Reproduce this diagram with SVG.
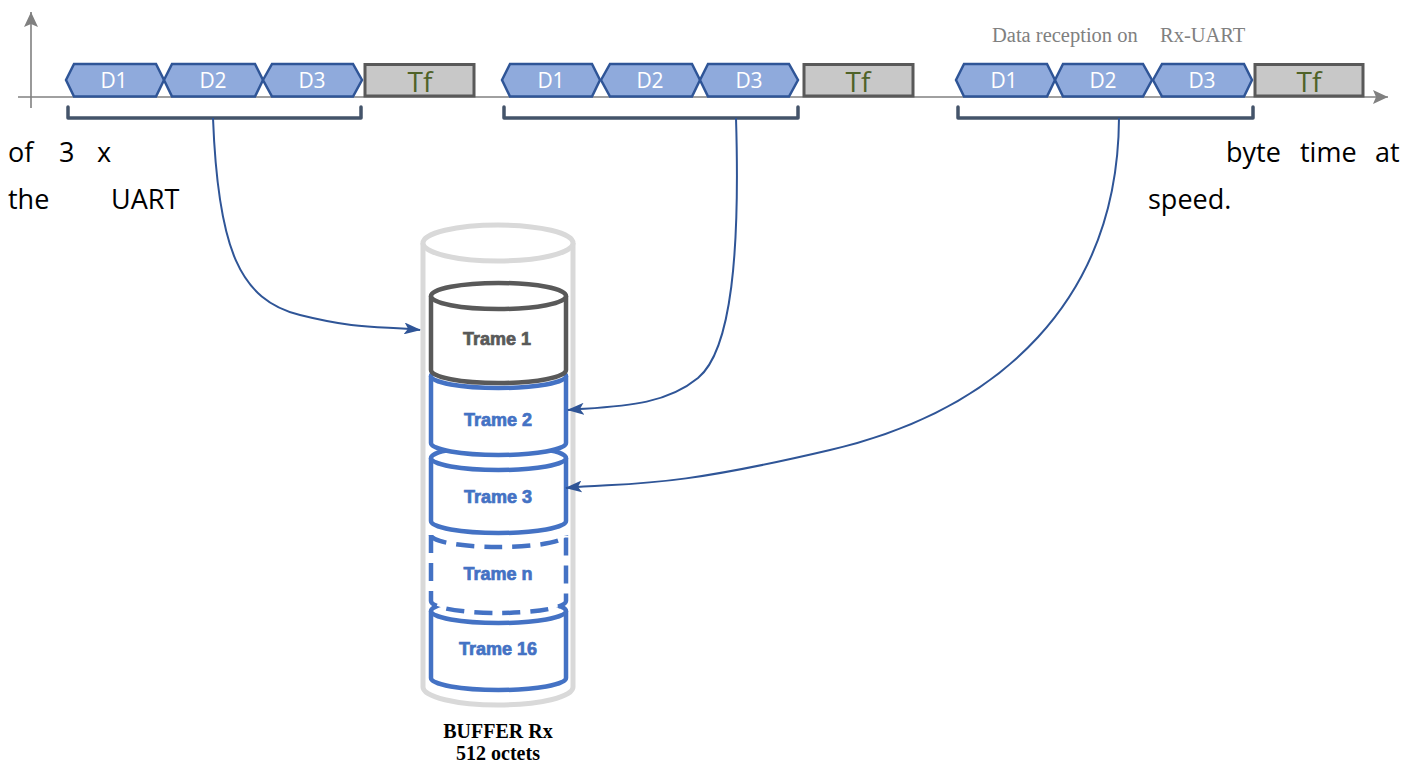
<svg xmlns="http://www.w3.org/2000/svg" width="1406" height="762" viewBox="0 0 1406 762">
<defs>
<style>
.hex{fill:#8FAADC;stroke:#2F5597;stroke-width:2.5;stroke-linejoin:miter}
.tf{fill:#C8C8C8;stroke:#595959;stroke-width:3}
.dl{font-family:"Open Sans","Liberation Sans",sans-serif;font-size:21px;fill:#FFFFFF;text-anchor:middle}
.tfl{font-family:"Open Sans","Liberation Sans",sans-serif;font-size:28px;fill:#4F6228;text-anchor:middle}
.br{fill:none;stroke:#44546A;stroke-width:3.5;stroke-linejoin:round;stroke-linecap:round}
.ax{stroke:#808080;stroke-width:1.6;fill:none}
.side{font-family:"Open Sans","Noto Sans",sans-serif;font-size:27px;fill:#000000}
.conn{fill:none;stroke:#2F5597;stroke-width:2}
.cyl{fill:#FFFFFF;stroke:#4472C4;stroke-width:4.5}
.tl{font-family:"Liberation Sans",Arial,sans-serif;font-size:18px;font-weight:bold;text-anchor:middle;fill:#4472C4;stroke:#4472C4;stroke-width:0.7}
</style>
<marker id="arr" markerUnits="userSpaceOnUse" markerWidth="18" markerHeight="12" refX="16" refY="6" orient="auto">
<path d="M0,0 L17,6 L0,12 L4,6 Z" fill="#2F5597"/>
</marker>
<marker id="axa" markerUnits="userSpaceOnUse" markerWidth="16" markerHeight="14" refX="15" refY="7" orient="auto">
<path d="M0,0 L15,7 L0,14 L3,7 Z" fill="#808080"/>
</marker>
</defs>
<rect width="1406" height="762" fill="#FFFFFF"/>

<g id="axes">
<line class="ax" x1="18" y1="97" x2="1388" y2="97" marker-end="url(#axa)"/>
<line class="ax" x1="31" y1="108" x2="31" y2="12" marker-end="url(#axa)"/>
<text x="992" y="42" font-family="Liberation Serif,serif" font-size="20.5" fill="#808080">Data reception on<tspan x="1160">Rx-UART</tspan></text>
</g>

<g id="frame1">
<path class="hex" d="M66,80 L74,64 L156,64 L164,80 L156,96.5 L74,96.5 Z"/>
<path class="hex" d="M164,80 L172,64 L255,64 L263,80 L255,96.5 L172,96.5 Z"/>
<path class="hex" d="M263,80 L272,64 L353,64 L362,80 L353,96.5 L272,96.5 Z"/>
<rect class="tf" x="365" y="64.5" width="109" height="31.5"/>
<text class="dl" x="114" y="88">D1</text>
<text class="dl" x="213" y="88">D2</text>
<text class="dl" x="312" y="88">D3</text>
<text class="tfl" x="420" y="92">Tf</text>
<path class="br" d="M68,107 V118 H361 V107"/>
</g>

<g id="frame2">
<path class="hex" d="M502,80 L510,64 L592,64 L600,80 L592,96.5 L510,96.5 Z"/>
<path class="hex" d="M601,80 L610,64 L692,64 L700,80 L692,96.5 L610,96.5 Z"/>
<path class="hex" d="M700,80 L708,64 L789,64 L798,80 L789,96.5 L708,96.5 Z"/>
<rect class="tf" x="804" y="64.5" width="109" height="31.5"/>
<text class="dl" x="551" y="88">D1</text>
<text class="dl" x="650" y="88">D2</text>
<text class="dl" x="749" y="88">D3</text>
<text class="tfl" x="858" y="92">Tf</text>
<path class="br" d="M504,107 V118 H798 V107"/>
</g>

<g id="frame3">
<path class="hex" d="M956,80 L964,64 L1047,64 L1055,80 L1047,96.5 L964,96.5 Z"/>
<path class="hex" d="M1055,80 L1063,64 L1143,64 L1152,80 L1143,96.5 L1063,96.5 Z"/>
<path class="hex" d="M1153,80 L1162,64 L1244,64 L1252,80 L1244,96.5 L1162,96.5 Z"/>
<rect class="tf" x="1255" y="64.5" width="108" height="31.5"/>
<text class="dl" x="1004" y="88">D1</text>
<text class="dl" x="1103" y="88">D2</text>
<text class="dl" x="1202" y="88">D3</text>
<text class="tfl" x="1309" y="92">Tf</text>
<path class="br" d="M958,107 V118 H1253 V107"/>
</g>

<g id="caption">
<text class="side" y="162"><tspan x="8">of</tspan><tspan x="59">3</tspan><tspan x="97">x</tspan><tspan x="1226">byte</tspan><tspan x="1300">time</tspan><tspan x="1375">at</tspan></text>
<text class="side" y="209"><tspan x="8">the</tspan><tspan x="111">UART</tspan><tspan x="1148">speed.</tspan></text>
</g>

<g id="buffer">
<path d="M423,243 V687 A75,18 0 0 0 573,687 V243" fill="#FFFFFF" stroke="#D9D9D9" stroke-width="5"/>
<ellipse cx="498" cy="243" rx="75" ry="18" fill="#FFFFFF" stroke="#D9D9D9" stroke-width="5"/>
<text x="498" y="738" font-family="Liberation Serif,serif" font-size="20" font-weight="bold" text-anchor="middle" fill="#000000">BUFFER Rx</text>
<text x="498" y="760" font-family="Liberation Serif,serif" font-size="20" font-weight="bold" text-anchor="middle" fill="#000000">512 octets</text>
</g>

<g id="trame16">
<path class="cyl" d="M431,611 V678 A67.5,12 0 0 0 566,678 V611"/>
<ellipse class="cyl" cx="498.5" cy="611" rx="67.5" ry="12"/>
<text class="tl" x="498" y="655">Trame 16</text>
</g>
<g id="tramen">
<path class="cyl" stroke-dasharray="18,10" d="M431,535 V601 A67.5,12 0 0 0 566,601 V535"/>
<path class="cyl" stroke-dasharray="18,10" d="M431,535 A67.5,12 0 0 0 566,535" fill="none"/>
<text class="tl" x="498" y="580">Trame n</text>
</g>
<g id="trame3">
<path class="cyl" d="M431,458 V521 A67.5,12 0 0 0 566,521 V458"/>
<ellipse class="cyl" cx="498.5" cy="458" rx="67.5" ry="12"/>
<text class="tl" x="498" y="503">Trame 3</text>
</g>
<g id="trame2">
<path class="cyl" d="M431,376 V443 A67.5,12 0 0 0 566,443 V376"/>
<ellipse class="cyl" cx="498.5" cy="376" rx="67.5" ry="12"/>
<text class="tl" x="498" y="426">Trame 2</text>
</g>
<g id="trame1">
<path class="cyl" style="stroke:#595959" d="M431,296 V370 A67.5,13 0 0 0 566,370 V296"/>
<ellipse class="cyl" style="stroke:#595959" cx="498.5" cy="296" rx="67.5" ry="13"/>
<text class="tl" x="497" y="345" style="fill:#595959;stroke:#595959">Trame 1</text>
</g>

<g id="connectors">
<path class="conn" d="M213,118 C218,250 240,300 300,315 S380,326 420,330" marker-end="url(#arr)"/>
<path class="conn" d="M736,118 C740,250 732,350 698,378 S620,406 568,410" marker-end="url(#arr)"/>
<path class="conn" d="M1119,118 C1118,300 1000,410 830,450 S630,482 566,488" marker-end="url(#arr)"/>
</g>
</svg>
